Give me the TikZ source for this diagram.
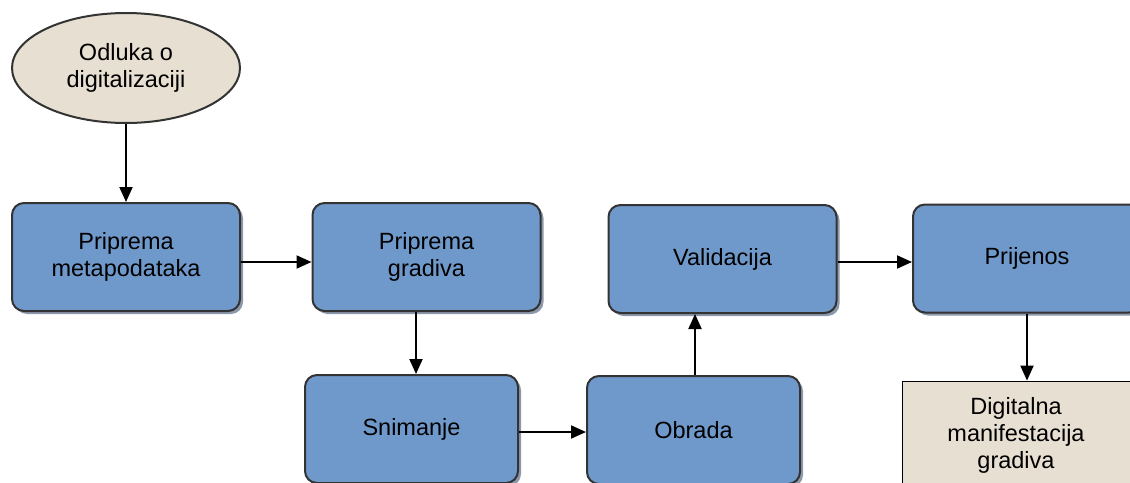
\documentclass[tikz,border=0pt]{standalone}
\usepackage{fontspec}
\setmainfont{Liberation Sans}
\usetikzlibrary{shapes.geometric,shadows,arrows.meta}

\definecolor{boxblue}{RGB}{112,153,203}
\definecolor{boxbeige}{RGB}{230,223,210}
\definecolor{boxedge}{RGB}{51,51,51}
\definecolor{boxshadow}{RGB}{140,152,172}

\begin{document}
\begin{tikzpicture}[x=1pt,y=-1pt,
    txt/.style={font=\fontsize{23.5}{27}\selectfont,align=center,inner sep=0pt},
    stepbox/.style={txt,draw=boxedge,line width=2pt,fill=boxblue,rounded corners=12pt,
        minimum width=228pt,minimum height=108pt,
        drop shadow={shadow xshift=3pt,shadow yshift=-3pt,fill=boxshadow,opacity=1}},
    smallbox/.style={stepbox,minimum width=213pt},
    startnode/.style={txt,ellipse,draw=boxedge,line width=2pt,fill=boxbeige,
        minimum width=228pt,minimum height=110pt},
    endbox/.style={txt,draw=black,line width=0.8pt,fill=boxbeige,
        minimum width=228pt,minimum height=108pt},
    arr/.style={line width=2pt,-{Triangle[length=15pt,width=13pt]}}]

    \useasboundingbox (0,0) rectangle (1130,482);
    \clip (0,0) rectangle (1130,482);

    \node[startnode] (odluka) at (126,68) {Odluka o\\digitalizaciji};

    \node[stepbox] (metapod) at (126,257) {Priprema\\metapodataka};
    \node[stepbox] (gradivo) at (426.5,257) {Priprema\\gradiva};
    \node[stepbox] (valid) at (722.5,259) {Validacija};
    \node[stepbox] (prijenos) at (1027,258.5) {Prijenos};

    \node[smallbox] (snim) at (411.5,429) {Snimanje};
    \node[smallbox] (obrada) at (693.5,430) {Obrada};

    \node[endbox] (digital) at (1016,435) {Digitalna\\manifestacija\\gradiva};

    % connectors
    \draw[arr] (odluka.south) -- (metapod.north);
    \draw[arr] ([yshift=-5pt]metapod.east) -- ([yshift=-5pt]metapod.east -| gradivo.west);
    \draw[arr] ([xshift=4.5pt]snim.north |- gradivo.south) -- ([xshift=4.5pt]snim.north);
    \draw[arr] ([yshift=-3pt]snim.east) -- ([yshift=-3pt]snim.east -| obrada.west);
    \draw[arr] ([xshift=1.5pt]obrada.north) -- ([xshift=1.5pt]obrada.north |- valid.south);
    \draw[arr] ([yshift=-3pt]valid.east) -- ([yshift=-3pt]valid.east -| prijenos.west);
    \draw[arr] (prijenos.south) -- (prijenos.south |- digital.north);

  \end{tikzpicture}
\end{document}
